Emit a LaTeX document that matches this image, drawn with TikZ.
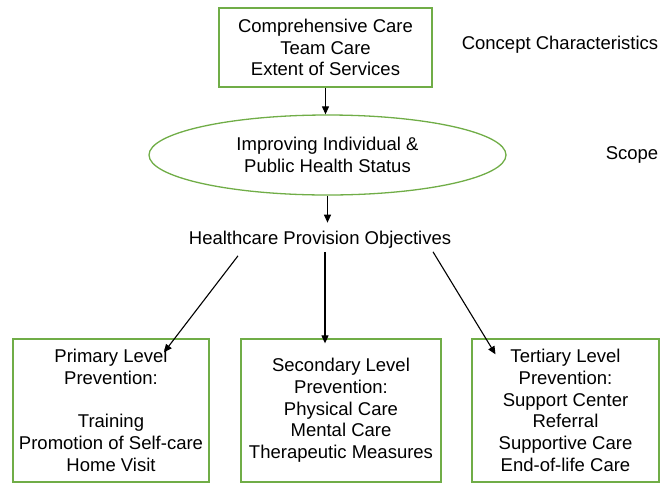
\documentclass[tikz,border=0pt]{standalone}
\usepackage{fontspec}
\setmainfont{Liberation Sans}
\usetikzlibrary{shapes.geometric,arrows.meta}
\definecolor{boxgreen}{RGB}{112,173,71}
\tikzset{
    greenbox/.style={draw=boxgreen, line width=1.3pt, align=center, inner sep=0pt},
    arr/.style={-{Triangle[length=8pt,width=7pt]}, line width=1.1pt},
}
\begin{document}
\begin{tikzpicture}[x=1pt, y=-1pt, font=\fontsize{18.5}{21.7}\selectfont]
    \useasboundingbox (0,0) rectangle (672,483);

    % Concept characteristics
    \node[greenbox, minimum width=213pt, minimum height=79pt] (concept) at (325.5,47.5)
        {Comprehensive Care\\Team Care\\Extent of Services};
    \node (conceptlbl) at (560,45) {Concept Characteristics};

    % Scope
    \node[greenbox, ellipse, minimum width=357pt, minimum height=80pt] (scope) at (327.5,155)
        {Improving Individual \&\\Public Health Status};
    \node (scopelbl) at (632,155) {Scope};

    % Objectives
    \node[inner sep=2pt] (obj) at (320,240) {Healthcare Provision Objectives};

    % Prevention levels
    \node[greenbox, minimum width=196pt, minimum height=143pt] (primary) at (111,410.5)
        {Primary Level\\Prevention:\\[21.7pt]Training\\Promotion of Self-care\\Home Visit};
    \node[greenbox, minimum width=200pt, minimum height=143pt] (secondary) at (341,410.5)
        {Secondary Level\\Prevention:\\Physical Care\\Mental Care\\Therapeutic Measures};
    \node[greenbox, minimum width=187pt, minimum height=143pt] (tertiary) at (565.5,410.5)
        {Tertiary Level\\Prevention:\\Support Center\\Referral\\Supportive Care\\End-of-life Care};

    % Arrows
    \draw[arr] (concept.south) -- (concept.south |- scope.north);
    \draw[arr] (scope.south) -- ++(0,27);
    \draw[arr] ([xshift=-82pt, yshift=-5pt]obj.south) -- ([xshift=53pt, yshift=-14pt]primary.north);
    \draw[arr] ([xshift=5pt, yshift=-1pt]obj.south) -- ([xshift=-16pt, yshift=-5pt]secondary.north);
    \draw[arr] ([xshift=113pt, yshift=-1pt]obj.south) -- ([xshift=-70pt, yshift=-16pt]tertiary.north);
\end{tikzpicture}
\end{document}
